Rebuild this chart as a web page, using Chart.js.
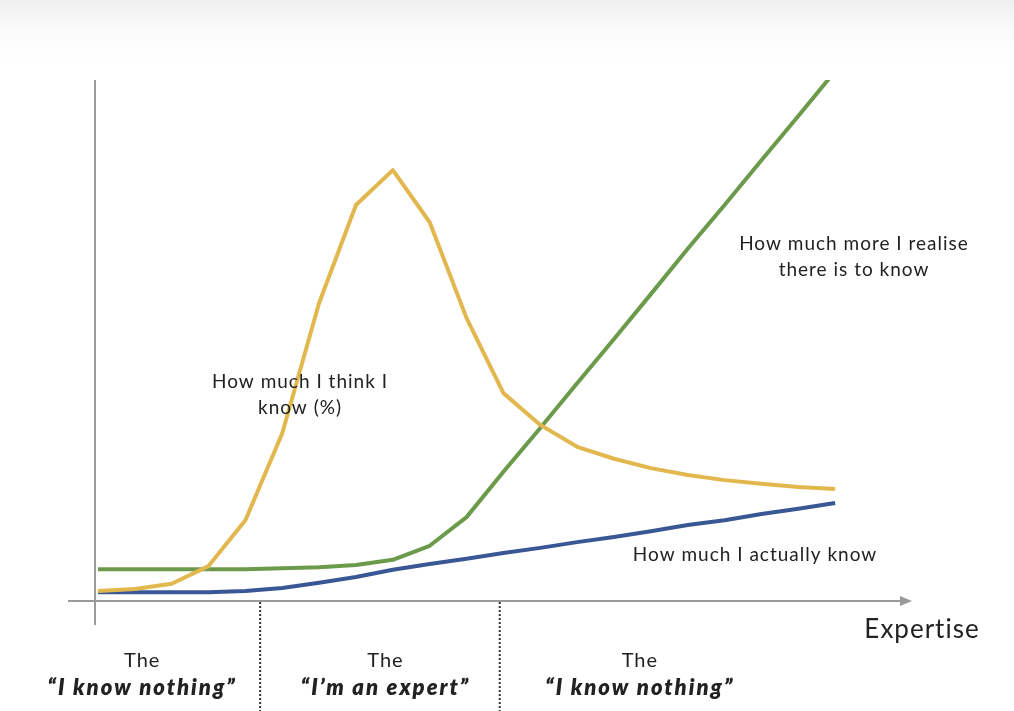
<!DOCTYPE html>
<html>
<head>
<meta charset="utf-8">
<script src="https://cdn.jsdelivr.net/npm/chart.js@4/dist/chart.umd.min.js"></script>
<style>
  body { margin: 0; background: #fff; }
  #wrap { position: relative; width: 1014px; height: 711px;
          background: linear-gradient(#efefef 0px, #fbfbfb 30px, #fff 60px); }
</style>
</head>
<body>
<div id="wrap"><canvas id="chart" width="1014" height="711"></canvas></div>
<script>
// x = step along expertise, y = % of vertical axis
var steps = [0,1,2,3,4,5,6,7,8,9,10,11,12,13,14,15,16,17,18,19,20];
var thinkKnow = [1.9,2.3,3.3,6.7,15.5,32.2,57.2,76.0,82.7,72.7,54.3,39.9,33.8,29.6,27.3,25.5,24.2,23.2,22.5,21.9,21.5];
var moreToKnow = [6.1,6.1,6.1,6.1,6.1,6.3,6.5,6.9,7.9,10.6,16.1,24.8,33.2,41.8,50.3,58.9,67.6,76.0,84.6,93.1,101.7];
var actuallyKnow = [1.7,1.7,1.7,1.7,1.9,2.5,3.5,4.6,6.0,7.1,8.1,9.2,10.2,11.3,12.3,13.4,14.6,15.5,16.7,17.7,18.8];

// stage boundaries (in x steps) and stage labels
var stageBreaks = [4.4, 10.9];
var stageCenters = [1.2, 7.8, 14.7];
var stageNames = ['\u201cI know nothing\u201d', '\u201cI\u2019m an expert\u201d', '\u201cI know nothing\u201d'];

function toPoints(arr) {
    var pts = [];
    for (let i = 0; i < arr.length; i++) {
        pts.push({x: steps[i], y: arr[i]});
    }
    return pts;
}

var FONT = 'Lato, "Open Sans", sans-serif';

var decorations = {
    id: 'decorations',
    beforeDatasetsDraw: function(chart) {
        var ctx = chart.ctx;
        var xs = chart.scales.x, ys = chart.scales.y;
        var x0 = xs.left, y0 = ys.getPixelForValue(0);
        ctx.save();
        ctx.strokeStyle = '#9a9a9a';
        ctx.lineWidth = 2;
        // vertical axis
        ctx.beginPath();
        ctx.moveTo(x0, ys.top);
        ctx.lineTo(x0, y0 + 24);
        ctx.stroke();
        // horizontal axis with arrow
        ctx.beginPath();
        ctx.moveTo(x0 - 27, y0);
        ctx.lineTo(xs.right - 8, y0);
        ctx.stroke();
        ctx.fillStyle = '#9a9a9a';
        ctx.beginPath();
        ctx.moveTo(xs.right + 2, y0);
        ctx.lineTo(xs.right - 10, y0 - 5);
        ctx.lineTo(xs.right - 10, y0 + 5);
        ctx.closePath();
        ctx.fill();
        // dotted stage separators
        ctx.strokeStyle = '#333';
        ctx.lineWidth = 2;
        ctx.setLineDash([2, 2]);
        stageBreaks.forEach(function(b) {
            var px = xs.getPixelForValue(b);
            ctx.beginPath();
            ctx.moveTo(px, y0 + 1);
            ctx.lineTo(px, chart.height);
            ctx.stroke();
        });
        ctx.restore();
    },
    afterDraw: function(chart) {
        var ctx = chart.ctx;
        var xs = chart.scales.x, ys = chart.scales.y;
        ctx.save();
        ctx.fillStyle = '#222';
        ctx.textAlign = 'center';
        ctx.textBaseline = 'middle';
        ctx.letterSpacing = '1px';
        ctx.font = '19px ' + FONT;
        ctx.fillText('How much I think I', 300, 382);
        ctx.fillText('know (%)', 300, 408);
        ctx.fillText('How much more I realise', 854, 244);
        ctx.fillText('there is to know', 854, 270);
        ctx.fillText('How much I actually know', 755, 555);
        ctx.font = '26px ' + FONT;
        ctx.fillText('Expertise', 922, 630);
        for (let i = 0; i < stageCenters.length; i++) {
            var cx = xs.getPixelForValue(stageCenters[i]);
            ctx.letterSpacing = '1px';
            ctx.font = '20px ' + FONT;
            ctx.fillText('The', cx, 661);
            ctx.letterSpacing = '2px';
            ctx.font = 'italic 800 22px ' + FONT;
            ctx.fillText(stageNames[i], cx, 688);
        }
        ctx.restore();
    }
};

new Chart(document.getElementById('chart').getContext('2d'), {
    type: 'line',
    data: {
        datasets: [{
            label: 'How much I think I know (%)',
            data: toPoints(thinkKnow),
            borderColor: '#E2B74E',
            borderWidth: 4
        }, {
            label: 'How much more I realise there is to know',
            data: toPoints(moreToKnow),
            borderColor: '#6B9A4B',
            borderWidth: 4
        }, {
            label: 'How much I actually know',
            data: toPoints(actuallyKnow),
            borderColor: '#3A5795',
            borderWidth: 4
        }]
    },
    options: {
        responsive: false,
        animation: false,
        layout: { padding: { left: 95, top: 80, right: 104, bottom: 110 } },
        elements: { point: { radius: 0 }, line: { tension: 0, borderJoinStyle: 'round' } },
        plugins: { legend: { display: false }, tooltip: { enabled: false } },
        scales: {
            x: { type: 'linear', min: -0.08, max: 22.03, display: false },
            y: { min: 0, max: 100, display: false }
        }
    },
    plugins: [decorations]
});
</script>
</body>
</html>
